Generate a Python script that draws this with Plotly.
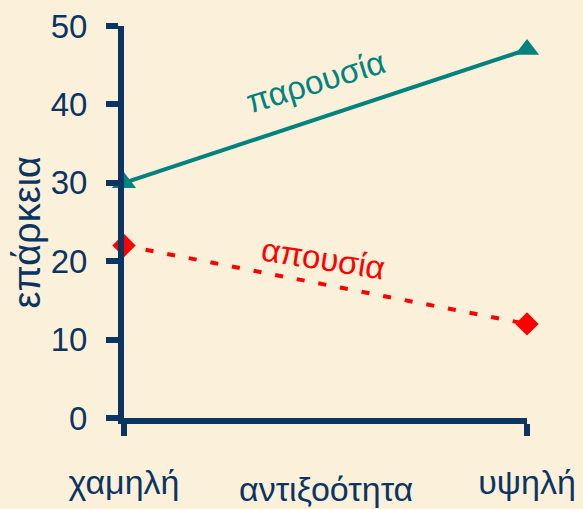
import plotly.graph_objects as go

# Data
categories = ["χαμηλή", "υψηλή"]
x_pos = [0, 1]
presence = [30, 47]     # παρουσία
absence = [22, 12]      # απουσία
y_ticks = [0, 10, 20, 30, 40, 50]

navy = "#0B3463"
teal = "#00837E"
red = "#FF0000"
bg = "#FBF1DA"
font_main = "Liberation Sans, Arial, sans-serif"

fig = go.Figure()
fig.add_trace(go.Scatter(
    x=x_pos, y=presence, mode="lines+markers", name="παρουσία",
    line=dict(color=teal, width=4),
    marker=dict(symbol="triangle-up", size=21, color=teal),
    cliponaxis=False, showlegend=False,
))
fig.add_trace(go.Scatter(
    x=x_pos, y=absence, mode="lines+markers", name="απουσία",
    line=dict(color=red, width=4, dash="8px,14px"),
    marker=dict(symbol="diamond", size=18, color=red),
    cliponaxis=False, showlegend=False,
))

fig.add_annotation(x=0.476, y=42.9, xref="x", yref="y", text="παρουσία",
                   textangle=-17, showarrow=False,
                   font=dict(family=font_main, size=33, color=teal))
fig.add_annotation(x=0.494, y=20.4, xref="x", yref="y", text="απουσία",
                   textangle=9, showarrow=False,
                   font=dict(family=font_main, size=33, color=red))
# x-axis title
fig.add_annotation(x=0.5, y=-0.18, xref="paper", yref="paper", text="αντιξοότητα",
                   showarrow=False, yanchor="middle",
                   font=dict(family=font_main, size=34, color=navy))
# y-axis title
fig.add_annotation(x=-0.24, y=0.474, xref="paper", yref="paper", text="επάρκεια",
                   showarrow=False, textangle=-90, xanchor="center", yanchor="middle",
                   font=dict(family=font_main, size=38, color=navy))

fig.update_layout(
    width=583, height=509,
    margin=dict(l=124, r=56, t=26, b=91, pad=0),
    paper_bgcolor=bg, plot_bgcolor=bg,
    xaxis=dict(
        range=[0, 1], tickvals=x_pos, ticktext=categories,
        showline=True, linewidth=6, linecolor=navy,
        ticks="outside", ticklen=12, tickwidth=6, tickcolor=navy,
        showgrid=False, zeroline=False, ticklabelstandoff=17,
        automargin=False,
        tickfont=dict(family=font_main, size=34, color=navy),
    ),
    yaxis=dict(
        range=[0, 50], tickvals=y_ticks,
        showline=True, linewidth=6, linecolor=navy,
        ticks="outside", ticklen=12, tickwidth=6, tickcolor=navy,
        showgrid=False, zeroline=False, ticklabelstandoff=12,
        automargin=False,
        tickfont=dict(family=font_main, size=33, color=navy),
    ),
)

fig.write_html("out.html", config={"displayModeBar": False},
               post_script="document.body.style.margin='0';")
